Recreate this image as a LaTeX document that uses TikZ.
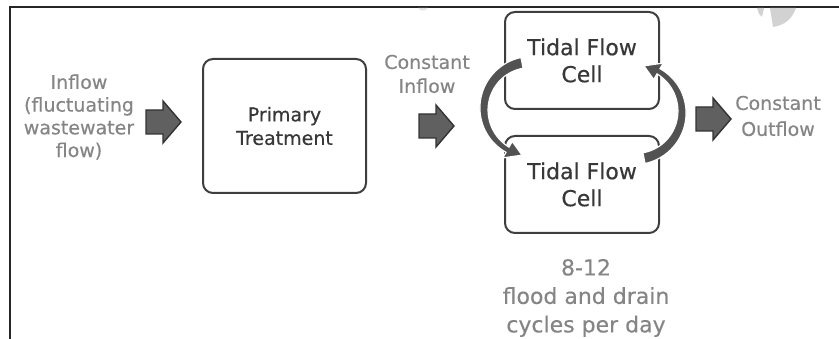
\documentclass[tikz,border=0pt]{standalone}
\usepackage{fontspec}
\setmainfont{DejaVu Sans}[FakeBold=0.35]
\usetikzlibrary{calc}

\definecolor{labelgray}{HTML}{858585}
\definecolor{boxtext}{HTML}{383838}
\definecolor{boxline}{HTML}{3E3E3E}
\definecolor{arrowfill}{HTML}{606060}
\definecolor{arrowline}{HTML}{333333}
\definecolor{framecol}{HTML}{262626}
\definecolor{flowarc}{HTML}{525252}
\definecolor{smudge}{HTML}{D2D2D2}

\tikzset{
  % wide block arrow between the stages
  pics/flowarrow/.style={code={
    \filldraw[blockarrow] (-17,-12) -- (0,-12) -- (0,-21) -- (18,0)
      -- (0,21) -- (0,12) -- (-17,12) -- cycle;
  }},
  % tapered curved arrow of the flood/drain cycle
  pics/cyclearc/.style={code={
    \begin{scope}[yscale=-1]
      \filldraw[cyclearrow]
        plot[domain=101:240,samples=40] (\x:{52.5-2.5*(\x-101)/139})
        -- (240:56.5) -- (259:47) -- (240:37.5)
        -- plot[domain=240:101,samples=40] (\x:{41.5+2.5*(\x-101)/139})
        -- cycle;
    \end{scope}
  }}
}

\begin{document}
\begin{tikzpicture}[x=1pt,y=-1pt,
  flowlabel/.style={align=center, text=labelgray, inner sep=0pt,
    font=\fontsize{19}{22.7}\selectfont},
  stagebox/.style={draw=boxline, line width=2pt, rounded corners=10pt,
    fill=white, align=center, text=boxtext, inner sep=0pt},
  cellbox/.style={stagebox, minimum width=154pt, minimum height=97pt,
    font=\fontsize{22}{27}\selectfont},
  blockarrow/.style={fill=arrowfill, draw=arrowline, line width=1.4pt,
    line join=miter},
  cyclearrow/.style={fill=flowarc, draw=white, line width=1.2pt}
]
\useasboundingbox (0,0) rectangle (839,339);

% frame edges
\draw[framecol, line width=2.3pt] (10,339) -- (10,7) -- (839,7);
% faint shading below the top edge
\fill[smudge] (770,8) -- (796,8) .. controls (792,19) and (785,25) .. (773,27) -- cycle;
\fill[smudge] (757,8) -- (764,8) -- (762,17) -- (759,14) -- cycle;
\fill[smudge!60] (418,8) -- (428,8) -- (425,10.5) -- (421,10.5) -- cycle;

% stages
\node[flowlabel] (inflow) at (79,117) {Inflow\\(fluctuating\\wastewater\\flow)};
\node[stagebox, minimum width=163pt, minimum height=134pt,
      font=\fontsize{19}{23.5}\selectfont] (primary) at (284.5,126) {Primary\\Treatment};
\node[flowlabel, font=\fontsize{19}{24}\selectfont] (cin) at (427,74) {Constant\\Inflow};
\node[cellbox] (cellA) at (582,60.5) {Tidal Flow\\Cell};
\node[cellbox] (cellB) at (582,184.5) {Tidal Flow\\Cell};
\node[flowlabel, font=\fontsize{19}{26}\selectfont] (cout) at (778,116) {Constant\\Outflow};
\node[flowlabel, font=\fontsize{22}{28.5}\selectfont] (cycles) at (586,298)
  {8-12\\flood and drain\\cycles per day};

% block arrows
\pic at (163,122) {flowarrow};
\pic at (436,126) {flowarrow};
\pic at (713,119) {flowarrow};

% flood and drain cycle between the two cells
\coordinate (loopL) at ($($(cellA.west)!0.5!(cellB.west)$)+(27,-13.5)$);
\coordinate (loopR) at ($($(cellA.east)!0.5!(cellB.east)$)+(-25,-10.5)$);
\pic at (loopL) {cyclearc};
\pic[rotate=180] at (loopR) {cyclearc};
\end{tikzpicture}
\end{document}
